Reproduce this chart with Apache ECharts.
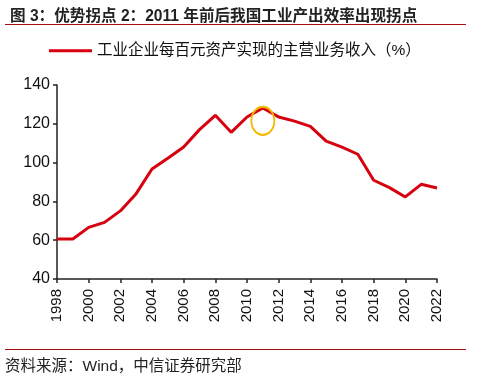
<!DOCTYPE html>
<html><head><meta charset="utf-8">
<script src="https://cdn.jsdelivr.net/npm/echarts@6/dist/echarts.min.js"></script>
<style>html,body{margin:0;padding:0;background:#fff}#c{width:478px;height:382px}</style>
</head><body><div id="c"></div>
<script>
const years = [1998,1999,2000,2001,2002,2003,2004,2005,2006,2007,2008,2009,2010,2011,2012,2013,2014,2015,2016,2017,2018,2019,2020,2021,2022];
const values = [60.6,60.6,66.6,69.2,75.1,84.0,96.7,102.2,108.0,117.0,124.4,115.6,123.5,128.2,123.5,121.4,118.7,111.1,108.0,104.3,90.9,87.1,82.3,88.8,86.9];
const seriesName = '工业企业每百元资产实现的主营业务收入（%）';
const yTicks = [40,60,80,100,120,140];
const highlightYear = 2011;
const highlightValue = 121.5;

const FONT = '"Liberation Sans", Arial, "Noto Sans CJK SC", sans-serif';
const chart = echarts.init(document.getElementById('c'), null, {renderer:'canvas'});
chart.setOption({
  animation:false,
  backgroundColor:'#fff',
  textStyle:{fontFamily:FONT},
  title:{
    text:'图 3：优势拐点 2：2011 年前后我国工业产出效率出现拐点',
    left:5, top:4,
    textStyle:{fontSize:15.6, fontWeight:'bold', color:'#222', fontFamily:FONT}
  },
  legend:{
    data:[seriesName], left:44, top:38, itemWidth:43, itemHeight:10, itemGap:5,
    icon:'path://M0,4 L42,4 L42,7 L0,7 Z',
    textStyle:{fontSize:15.5, color:'#111', fontFamily:FONT}
  },
  grid:{left:57, right:41, top:85, bottom:103},
  xAxis:{
    type:'value', min:1998, max:2022, interval:2,
    splitLine:{show:false},
    axisLine:{lineStyle:{color:'#222', width:1.5}},
    axisTick:{show:true, length:4, lineStyle:{color:'#222', width:1.5}},
    axisLabel:{rotate:90, fontSize:15, color:'#111', margin:10, formatter:v=>String(v)}
  },
  yAxis:{
    type:'value', min:yTicks[0], max:yTicks[yTicks.length-1], interval:20,
    splitLine:{show:false},
    axisLine:{show:true, lineStyle:{color:'#222', width:1.5}},
    axisTick:{show:true, length:4, lineStyle:{color:'#222', width:1.5}},
    axisLabel:{fontSize:16, color:'#111', margin:7}
  },
  series:[{
    name:seriesName, type:'line', showSymbol:false,
    data:years.map((y,i)=>[y, values[i]]),
    lineStyle:{color:'#D7000F', width:3},
    itemStyle:{color:'#D7000F'},
    markPoint:{
      symbol:'circle', symbolSize:[23,28], silent:true,
      itemStyle:{color:'rgba(0,0,0,0)', borderColor:'#F5B800', borderWidth:2},
      label:{show:false},
      data:[{coord:[highlightYear, highlightValue]}]
    }
  }],
  graphic:[
    {type:'line', shape:{x1:5,y1:24.5,x2:466,y2:24.5}, style:{stroke:'#A50F0F', lineWidth:1.2}},
    {type:'line', shape:{x1:5,y1:349.5,x2:466,y2:349.5}, style:{stroke:'#A50F0F', lineWidth:1.2}},
    {type:'text', left:5, top:359, style:{text:'资料来源：Wind，中信证券研究部', fontSize:15.5, fill:'#222', fontFamily:FONT}}
  ]
});
</script></body></html>
